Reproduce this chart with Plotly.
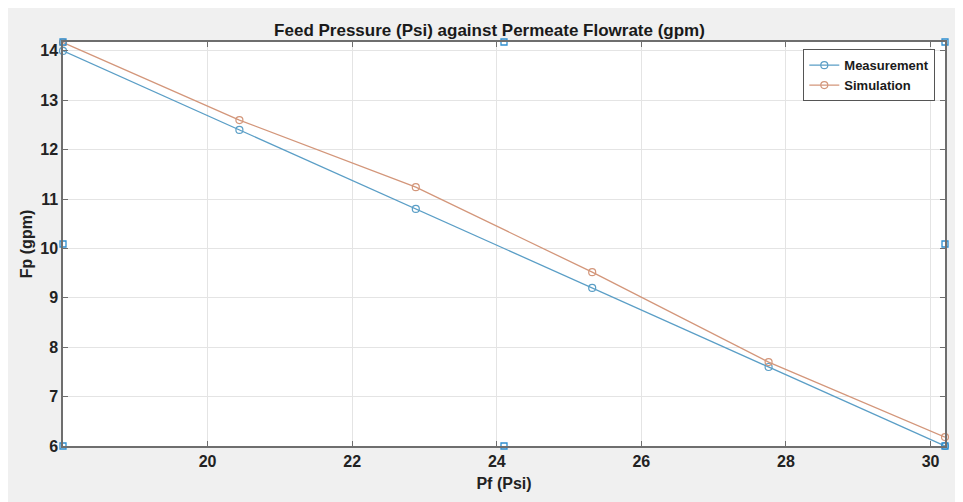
import plotly.graph_objects as go

pf = [18.0, 20.44, 22.88, 25.32, 27.76, 30.2]
fp_measurement = [14.0, 12.4, 10.8, 9.2, 7.6, 6.0]
fp_simulation = [14.17, 12.6, 11.24, 9.52, 7.7, 6.18]

# selection handles visible in the reference (figure edit mode)
handle_x = [18.0, 24.1, 30.2, 18.0, 30.2, 18.0, 24.1, 30.2]
handle_y = [14.18, 14.18, 14.18, 10.09, 10.09, 6.0, 6.0, 6.0]

x_ticks = [20, 22, 24, 26, 28, 30]
y_ticks = [6, 7, 8, 9, 10, 11, 12, 13, 14]

blue = "#5a9ec6"
orange = "#d3967a"
font_family = "Liberation Sans, Arial, sans-serif"

fig = go.Figure()
fig.add_trace(go.Scatter(
    x=pf, y=fp_measurement, mode="lines+markers", name="Measurement",
    line=dict(color=blue, width=1.3),
    marker=dict(symbol="circle-open", size=7, color=blue, line=dict(width=1.2)),
    cliponaxis=False,
))
fig.add_trace(go.Scatter(
    x=pf, y=fp_simulation, mode="lines+markers", name="Simulation",
    line=dict(color=orange, width=1.3),
    marker=dict(symbol="circle-open", size=7, color=orange, line=dict(width=1.2)),
    cliponaxis=False,
))
fig.add_trace(go.Scatter(
    x=handle_x, y=handle_y, mode="markers", showlegend=False, hoverinfo="skip",
    marker=dict(symbol="square-open", size=6, color="#2f8fd0", line=dict(width=1.3)),
    cliponaxis=False,
))

axis_common = dict(
    showgrid=True, gridcolor="#e4e4e4", gridwidth=1,
    showline=True, linecolor="#6e6e6e", linewidth=1.5, mirror="ticks",
    ticks="inside", ticklen=5, tickcolor="#6e6e6e", tickwidth=1,
    zeroline=False,
    tickfont=dict(family=font_family, size=16, color="#222222", weight="bold"),
)

fig.update_layout(
    width=963, height=502,
    margin=dict(l=55, r=26, t=34, b=64),
    paper_bgcolor="#f0f0f0", plot_bgcolor="white",
    title=dict(
        text="Feed Pressure (Psi) against Permeate Flowrate (gpm)",
        x=0.5, xanchor="center", y=1 - 22 / 502, yanchor="middle",
        font=dict(family=font_family, size=17, color="#1a1a1a", weight="bold"),
    ),
    xaxis=dict(
        range=[18.0, 30.2], tickvals=x_ticks,
        title=dict(text="Pf (Psi)", standoff=9,
                   font=dict(family=font_family, size=16, color="#222222", weight="bold")),
        **axis_common,
    ),
    yaxis=dict(
        range=[6.0, 14.18], tickvals=y_ticks,
        title=dict(text="Fp (gpm)", standoff=4,
                   font=dict(family=font_family, size=16, color="#222222", weight="bold")),
        **axis_common,
    ),
    legend=dict(
        x=0.989, y=0.982, xanchor="right", yanchor="top",
        bgcolor="white", bordercolor="#555555", borderwidth=1,
        font=dict(family=font_family, size=13, color="#1a1a1a", weight="bold"),
        tracegroupgap=0, itemwidth=30,
    ),
    showlegend=True,
)

fig.write_html("out.html")
